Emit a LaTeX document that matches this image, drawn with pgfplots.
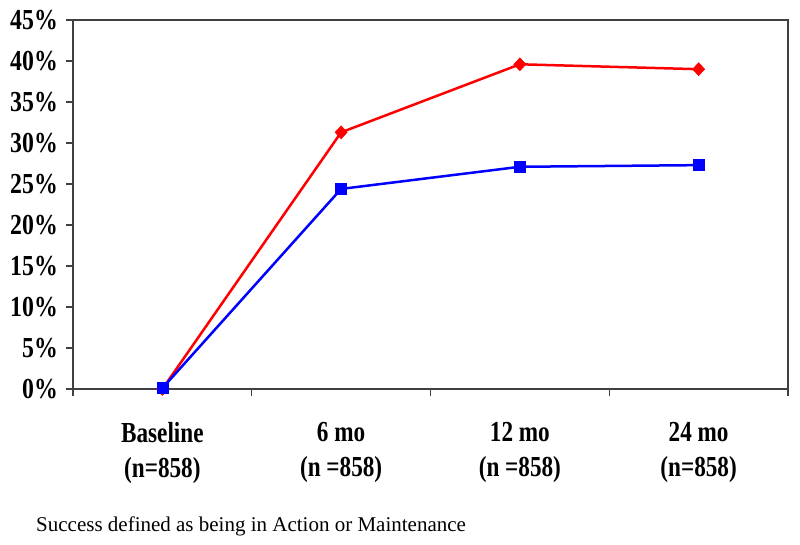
\documentclass[border=0pt]{standalone}
\usepackage{fontspec}
\setmainfont{Liberation Serif}
\newfontfamily\ylabfont{Liberation Serif}[FakeStretch=0.82]
\newfontfamily\xlabfont{Liberation Serif}[FakeStretch=0.8]
\usepackage{pgfplots}
\pgfplotsset{compat=1.18}
\begin{document}
\begin{tikzpicture}
\begin{axis}[
  at={(73pt,155pt)}, anchor=south west,
  scale only axis, width=715pt, height=369pt,
  xmin=-0.5, xmax=3.5, ymin=0, ymax=45,
  axis line style={black!75, line width=1.2pt},
  tick style={black!75, line width=1.2pt},
  major tick length=6.5pt, tick align=outside, tick pos=left,
  ytick={0,5,...,45},
  yticklabels={0\%,5\%,10\%,15\%,20\%,25\%,30\%,35\%,40\%,45\%},
  yticklabel style={font=\ylabfont\bfseries\fontsize{29}{29}\selectfont, inner sep=0pt, anchor=east, xshift=-8.5pt},
  xtick={-0.5,0.5,1.5,2.5,3.5},
  xticklabels={{Baseline\\(n=858)},{6 mo\\(n =858)},{12 mo\\(n =858)},{24 mo\\(n=858)},{}},
  xticklabel style={font=\xlabfont\bfseries\fontsize{29}{35}\selectfont, align=center, inner sep=0pt, anchor=north, xshift=89.375pt, yshift=-27pt},
  clip=false,
]
\addplot[color=red, line width=2.5pt, mark=diamond*, mark size=6.5pt, mark options={fill=red, draw=red, line width=0.5pt, xscale=1.25}]
  coordinates {(0,0) (1,31.3) (2,39.6) (3,39.0)};
\addplot[color=blue, line width=2.5pt, mark=square*, mark size=5.5pt, mark options={fill=blue, draw=blue, line width=0.5pt}]
  coordinates {(0,0.1) (1,24.4) (2,27.1) (3,27.3)};
\end{axis}
\node[anchor=base west, inner sep=0pt, font=\fontsize{21}{21}\selectfont] at (36pt,12.3pt) {Success defined as being in Action or Maintenance};
\pgfresetboundingbox
\useasboundingbox (0,0) rectangle (800pt,544pt);
\end{tikzpicture}
\end{document}
